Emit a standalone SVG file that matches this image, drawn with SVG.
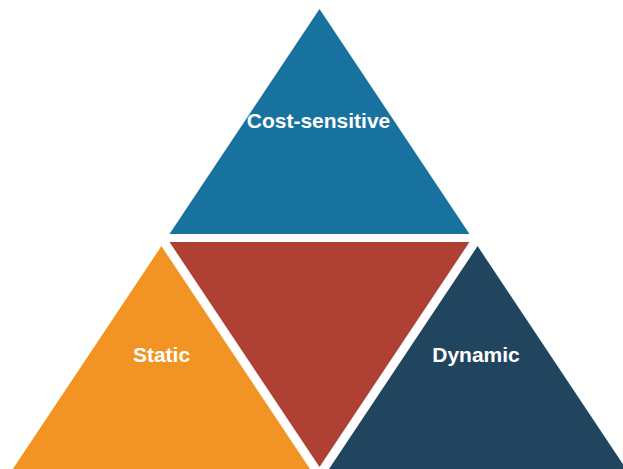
<svg xmlns="http://www.w3.org/2000/svg" width="623" height="469" viewBox="0 0 623 469">
<style>
.lbl{font-family:"Liberation Sans",Arial,sans-serif;font-weight:bold;font-size:21px;fill:#ffffff;text-anchor:middle}
</style>
<rect width="623" height="469" fill="#ffffff"/>
<g id="top">
<polygon points="319.5,9 169.5,234 469.5,234" fill="#17729f"/>
<text class="lbl" x="318.5" y="128">Cost-sensitive</text>
</g>
<g id="center">
<polygon points="169.5,242 469.5,242 319.5,467" fill="#ae4133"/>
</g>
<g id="static">
<polygon points="161.4,246.1 10.8,472 312,472" fill="#f29423"/>
<text class="lbl" x="161.5" y="362">Static</text>
</g>
<g id="dynamic">
<polygon points="477.6,246.1 327,472 628.2,472" fill="#21455e"/>
<text class="lbl" x="476" y="362">Dynamic</text>
</g>
<g id="connectors"></g>
</svg>
